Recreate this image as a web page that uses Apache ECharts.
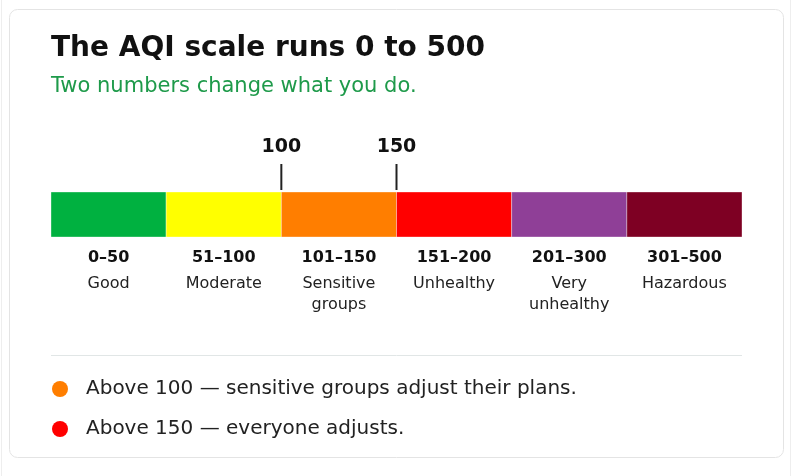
<!DOCTYPE html>
<html>
<head>
<meta charset="utf-8">
<script src="https://cdn.jsdelivr.net/npm/echarts@6/dist/echarts.min.js"></script>
<style>
	html, body { margin: 0; padding: 0; background: #fff; }
	#chart { width: 792px; height: 476px; }
</style>
</head>
<body>
<div id="chart"></div>
<script>
// AQI breakpoints and category labels
var breaks = [0, 50, 100, 150, 200, 300, 500];
var ranges = ['0–50', '51–100', '101–150', '151–200', '201–300', '301–500'];
var names = ['Good', 'Moderate', 'Sensitive\ngroups', 'Unhealthy', 'Very\nunhealthy', 'Hazardous'];
var colors = ['#00b140', '#ffff00', '#ff7e00', '#ff0000', '#8f3f97', '#7e0023'];

// thresholds that change what you do
var thresholds = [100, 150];
var notes = ['Above 100 — sensitive groups adjust their plans.', 'Above 150 — everyone adjusts.'];
var noteColors = ['#ff7e00', '#ff0000'];

var FONT = '"DejaVu Sans", sans-serif';

// every band gets the same width, so map an AQI value to its band position
function bandPos(v) {
	for (var k = 0; k < breaks.length - 1; k++) {
		if (v <= breaks[k + 1]) {
			return k + (v - breaks[k]) / (breaks[k + 1] - breaks[k]);
		}
	}
	return breaks.length - 1;
}

var segData = ranges.map(function (r, i) { return [i, i + 1]; });

var chart = echarts.init(document.getElementById('chart'));

var series = [{
	type: 'custom',
	name: 'bands',
	data: segData,
	renderItem: function (params, api) {
		var i = params.dataIndex;
		var p0 = api.coord([api.value(0), 1]);
		var p1 = api.coord([api.value(1), 0]);
		var cx = (p0[0] + p1[0]) / 2;
		return {
			type: 'group',
			children: [{
				type: 'rect',
				shape: { x: p0[0], y: p0[1], width: p1[0] - p0[0], height: p1[1] - p0[1] },
				style: { fill: colors[i], stroke: 'rgba(255,255,255,0.35)', lineWidth: 1 }
			}, {
				type: 'text',
				style: {
					text: ranges[i], x: cx, y: p1[1] + 21,
					align: 'center', verticalAlign: 'middle',
					font: 'bold 16px ' + FONT, fill: '#111'
				}
			}, {
				type: 'text',
				style: {
					text: names[i], x: cx, y: p1[1] + 36,
					align: 'center', verticalAlign: 'top', lineHeight: 21,
					font: '16px ' + FONT, fill: '#222'
				}
			}]
		};
	}
}];

thresholds.forEach(function (t, i) {
	series.push({
		type: 'custom',
		name: notes[i],
		itemStyle: { color: noteColors[i] },
		data: [[bandPos(t), t]],
		renderItem: function (params, api) {
			var p = api.coord([api.value(0), 1]);
			return {
				type: 'group',
				children: [{
					type: 'line',
					shape: { x1: p[0], y1: p[1] - 2, x2: p[0], y2: p[1] - 28 },
					style: { stroke: '#222', lineWidth: 2 }
				}, {
					type: 'text',
					style: {
						text: String(api.value(1)), x: p[0], y: p[1] - 45,
						align: 'center', verticalAlign: 'middle',
						font: 'bold 19px ' + FONT, fill: '#111'
					}
				}]
			};
		}
	});
});

var option = {
	animation: false,
	title: {
		text: 'The AQI scale runs 0 to 500',
		subtext: 'Two numbers change what you do.',
		left: 51,
		top: 35,
		padding: 0,
		itemGap: 13,
		textStyle: { fontFamily: FONT, fontSize: 28, fontWeight: 'bold', color: '#111' },
		subtextStyle: { fontFamily: FONT, fontSize: 21, color: '#1e9a4a' }
	},
	grid: { left: 51, right: 50, top: 192, height: 45 },
	xAxis: { type: 'value', min: 0, max: ranges.length, show: false },
	yAxis: { type: 'value', min: 0, max: 1, show: false },
	legend: {
		data: notes,
		orient: 'vertical',
		left: 52,
		top: 379,
		padding: 0,
		icon: 'circle',
		itemWidth: 16,
		itemHeight: 16,
		itemGap: 20,
		selectedMode: false,
		textStyle: { fontFamily: FONT, fontSize: 20, color: '#222', lineHeight: 20, padding: [0, 0, 0, 13] }
	},
	graphic: [
		{ type: 'rect', z: -10, shape: { x: 9.5, y: 9.5, width: 774, height: 448, r: 8 }, style: { fill: '#fff', stroke: '#e4e4e4', lineWidth: 1 } },
		{ type: 'line', z: -10, shape: { x1: 1.5, y1: 0, x2: 1.5, y2: 476 }, style: { stroke: '#eeeeee', lineWidth: 1 } },
		{ type: 'line', z: -10, shape: { x1: 790.5, y1: 0, x2: 790.5, y2: 476 }, style: { stroke: '#eeeeee', lineWidth: 1 } },
		{ type: 'line', shape: { x1: 51, y1: 355.5, x2: 742, y2: 355.5 }, style: { stroke: '#e1e6e6', lineWidth: 1 } }
	],
	series: series
};

chart.setOption(option);
</script>
</body>
</html>
